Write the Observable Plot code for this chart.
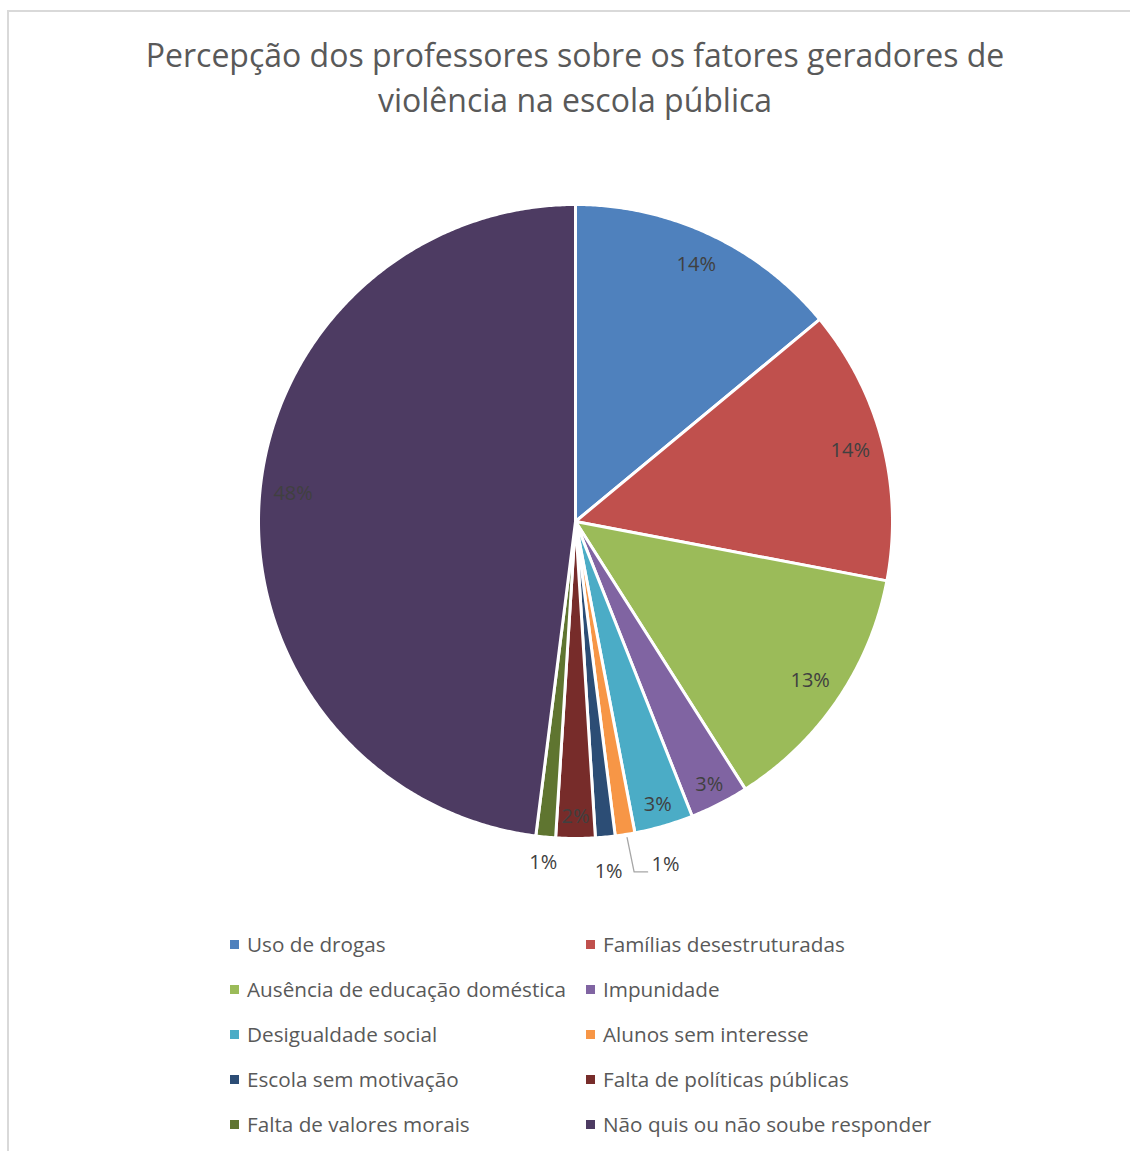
<!DOCTYPE html>
<html>
<head>
<meta charset="utf-8">
<script src="https://cdn.jsdelivr.net/npm/d3@7"></script>
<script src="https://cdn.jsdelivr.net/npm/@observablehq/plot@0.6"></script>
<style>
  html, body { margin: 0; padding: 0; background: #fff; overflow: hidden; }
  body { width: 1130px; height: 1151px; position: relative; font-family: "Open Sans", sans-serif; }
  #frame { position: absolute; left: 7px; top: 10px; width: 1200px; height: 1200px;
           border-top: 2px solid #d9d9d9; border-left: 2px solid #d9d9d9; box-sizing: border-box; }
  #title { position: absolute; left: 0; top: 32px; width: 1150px; text-align: center;
           font-size: 32px; line-height: 45px; color: #595959; }
  #chart { position: absolute; left: 0; top: 130px; }
  #legend { position: absolute; left: 0; top: 0; width: 1130px; height: 1151px; pointer-events: none; }
  .item { position: absolute; font-size: 20.7px; color: #595959; white-space: nowrap; line-height: 26px; }
  .sw { display: inline-block; width: 9px; height: 9px; margin-right: 8px; vertical-align: 3px; }
</style>
</head>
<body>
<div id="frame"></div>
<div id="title">Percepção dos professores sobre os fatores geradores de<br>violência na escola pública</div>
<div id="chart"></div>
<div id="legend"></div>
<script>
const categories = [
  "Uso de drogas",
  "Famílias desestruturadas",
  "Ausência de educação doméstica",
  "Impunidade",
  "Desigualdade social",
  "Alunos sem interesse",
  "Escola sem motivação",
  "Falta de políticas públicas",
  "Falta de valores morais",
  "Não quis ou não soube responder"
];
const values = [14, 14, 13, 3, 3, 1, 1, 2, 1, 48];
const colors = ["#4F81BD", "#C0504D", "#9BBB59", "#8064A2", "#4BACC6", "#F79646", "#2C4D75", "#772C2A", "#5F7530", "#4D3B62"];

// layout constants
const W = 1130, H = 760, CX = 575, CY = 391, R = 317;
const deg = Math.PI / 180;

const arcs = d3.pie().sort(null).value(d => d.value).startAngle(0).endAngle(2 * Math.PI)(
  categories.map((name, i) => ({name, value: values[i]}))
);

// polygon points for each slice (in pixel-like data units relative to centre, y up)
const pts = [];
for (const a of arcs) {
  const name = a.data.name;
  pts.push({name, x: 0, y: 0});
  const n = Math.max(2, Math.ceil((a.endAngle - a.startAngle) / (0.4 * deg)));
  for (let k = 0; k <= n; k++) {
    const t = a.startAngle + (a.endAngle - a.startAngle) * k / n;
    pts.push({name, x: R * Math.sin(t), y: R * Math.cos(t)});
  }
}

// data labels
const labels = [];
const leaders = [];
for (const a of arcs) {
  const v = a.data.value;
  let mid = (a.startAngle + a.endAngle) / 2;
  const text = v + "%";
  if (v >= 2) {
    if (v > 40) mid += 2 * deg; // best-fit nudge of the large slice label
    const r = v >= 10 ? 0.895 * R : 0.93 * R;
    labels.push({text, x: r * Math.sin(mid), y: r * Math.cos(mid)});
  } else if (a.data.name === "Alunos sem interesse") {
    const la = mid - 5.7 * deg, lr = 1.12 * R;
    const lx = lr * Math.sin(la), ly = lr * Math.cos(la);
    labels.push({text, x: lx, y: ly});
    const sx = R * Math.sin(mid), sy = R * Math.cos(mid);
    leaders.push({k: 0, x: sx + 2, y: sy - 3});
    leaders.push({k: 1, x: sx + 9, y: ly - 7});
    leaders.push({k: 2, x: lx - 18, y: ly - 7});
  } else {
    const r = (a.data.name === "Escola sem motivação" ? 1.11 : 1.08) * R;
    labels.push({text, x: r * Math.sin(mid), y: r * Math.cos(mid)});
  }
}

const chart = Plot.plot({
  width: W,
  height: H,
  margin: 0,
  x: {domain: [-CX, W - CX], range: [0, W], axis: null},
  y: {domain: [CY, CY - H], range: [0, H], axis: null},
  color: {domain: categories, range: colors},
  style: {background: "transparent", fontFamily: "Open Sans, sans-serif"},
  marks: [
    Plot.line(pts, {x: "x", y: "y", z: "name", fill: "name", stroke: "white", strokeWidth: 3,
                    strokeLinejoin: "round", curve: "linear-closed"}),
    Plot.line(leaders, {x: "x", y: "y", stroke: "#a6a6a6", strokeWidth: 1.3}),
    Plot.text(labels, {x: "x", y: "y", text: "text", fill: "#404040", fontSize: 20})
  ]
});
document.getElementById("chart").appendChild(chart);

// legend (two columns)
const legend = document.getElementById("legend");
const colX = [230, 586];
categories.forEach((name, i) => {
  const row = Math.floor(i / 2), col = i % 2;
  const div = document.createElement("div");
  div.className = "item";
  div.style.left = colX[col] + "px";
  div.style.top = (944 + row * 45 - 13) + "px";
  const sw = document.createElement("span");
  sw.className = "sw";
  sw.style.background = colors[i];
  div.appendChild(sw);
  div.appendChild(document.createTextNode(name));
  legend.appendChild(div);
});
</script>
</body>
</html>
